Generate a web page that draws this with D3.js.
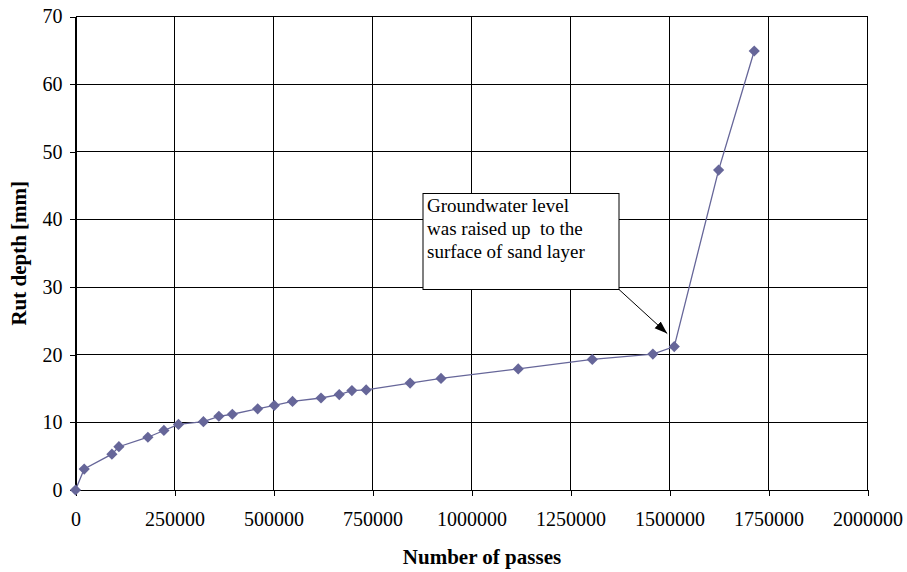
<!DOCTYPE html>
<html>
<head>
<meta charset="utf-8">
<script src="https://cdn.jsdelivr.net/npm/d3@7"></script>
<style>
  html, body { margin: 0; padding: 0; background: #fff; }
  svg { display: block; font-family: "Liberation Serif", "Times New Roman", serif; }
</style>
</head>
<body>
<svg id="chart" width="907" height="572"></svg>
<script>
// Rut depth measured against the number of wheel passes
const passes = [0, 22000, 91900, 109600, 182800, 223200, 260000, 323000, 362000, 396000,
  460000, 502000, 548000, 620000, 666000, 698000, 734000, 845000, 923000, 1118000,
  1305000, 1458000, 1512000, 1624000, 1714000];
const rutDepth = [0, 3.1, 5.3, 6.4, 7.8, 8.8, 9.7, 10.1, 10.9, 11.2,
  12.0, 12.5, 13.1, 13.6, 14.1, 14.7, 14.8, 15.8, 16.5, 17.9,
  19.3, 20.1, 21.2, 47.3, 64.9];
const xTicks = [0, 250000, 500000, 750000, 1000000, 1250000, 1500000, 1750000, 2000000];
const yTicks = [0, 10, 20, 30, 40, 50, 60, 70];
const noteLines = ["Groundwater level", "was raised up\u00a0 to the", "surface of sand layer"];
const notePoint = 22; // index of the reading the note points at

const svg = d3.select("#chart");
const plotLeft = 75.5, plotRight = 867.5, plotTop = 16.5, plotBottom = 490;
const serif = "Liberation Serif, Times New Roman, serif";

const x = d3.scaleLinear().domain([0, 2000000]).range([plotLeft, plotRight]);
const y = d3.scaleLinear().domain([0, 70]).range([plotBottom, plotTop]);

// grid
const grid = svg.append("g").attr("stroke", "#000").attr("stroke-width", 1).attr("shape-rendering", "crispEdges");
grid.selectAll(".gx").data(xTicks).join("line")
  .attr("x1", d => x(d)).attr("x2", d => x(d)).attr("y1", plotTop).attr("y2", plotBottom);
grid.selectAll(".gy").data(yTicks).join("line")
  .attr("x1", plotLeft).attr("x2", plotRight).attr("y1", d => y(d)).attr("y2", d => y(d));

// axes
const xAxis = svg.append("g").attr("transform", `translate(0,${plotBottom})`)
  .call(d3.axisBottom(x).tickValues(xTicks).tickFormat(d3.format("d")).tickSize(6).tickPadding(16));
const yAxis = svg.append("g").attr("transform", `translate(${plotLeft},0)`)
  .call(d3.axisLeft(y).tickValues(yTicks).tickFormat(d3.format("d")).tickSize(6).tickPadding(7));
[xAxis, yAxis].forEach(a => {
  a.attr("font-family", serif).attr("font-size", 20);
  a.select(".domain").attr("stroke", "#000").attr("shape-rendering", "crispEdges");
  a.selectAll(".tick line").attr("stroke", "#000").attr("shape-rendering", "crispEdges");
  a.selectAll("text").attr("fill", "#000");
});

// axis titles
svg.append("text").attr("x", 482).attr("y", 564)
  .attr("text-anchor", "middle").attr("font-weight", "bold").attr("font-size", 21)
  .attr("font-family", serif)
  .text("Number of passes");
svg.append("text").attr("transform", `translate(26,${(plotTop + plotBottom) / 2}) rotate(-90)`)
  .attr("text-anchor", "middle").attr("font-weight", "bold").attr("font-size", 21)
  .attr("font-family", serif)
  .text("Rut depth [mm]");

// data line and markers
const pts = passes.map((p, i) => [p, rutDepth[i]]);
svg.append("path").datum(pts)
  .attr("fill", "none").attr("stroke", "#666699").attr("stroke-width", 1.3)
  .attr("d", d3.line().x(d => x(d[0])).y(d => y(d[1])));
svg.append("g").selectAll("path").data(pts).join("path")
  .attr("transform", d => `translate(${x(d[0])},${y(d[1])})`)
  .attr("d", d3.symbol(d3.symbolDiamond2, 80)())
  .attr("fill", "#666699");

// callout
const bx = 423, by = 193.5, bw = 196, bh = 96;
svg.append("defs").append("marker").attr("id", "arr")
  .attr("viewBox", "0 0 13 10").attr("refX", 13).attr("refY", 5)
  .attr("markerWidth", 13).attr("markerHeight", 10).attr("orient", "auto")
  .attr("markerUnits", "userSpaceOnUse")
  .append("path").attr("d", "M0,0.5L13,5L0,9.5Z").attr("fill", "#000");
const tip = [x(passes[notePoint]) - 7, y(rutDepth[notePoint]) - 13];
svg.append("line").attr("x1", bx + bw).attr("y1", by + bh).attr("x2", tip[0]).attr("y2", tip[1])
  .attr("stroke", "#000").attr("stroke-width", 1).attr("marker-end", "url(#arr)");
svg.append("rect").attr("x", bx).attr("y", by).attr("width", bw).attr("height", bh)
  .attr("fill", "#fff").attr("stroke", "#000").attr("stroke-width", 1);
svg.append("g").selectAll("text").data(noteLines).join("text")
  .attr("x", bx + 4).attr("y", (d, i) => 212 + i * 23)
  .attr("font-size", 19).attr("font-family", serif).attr("fill", "#000")
  .style("white-space", "pre")
  .text(d => d);
</script>
</body>
</html>
